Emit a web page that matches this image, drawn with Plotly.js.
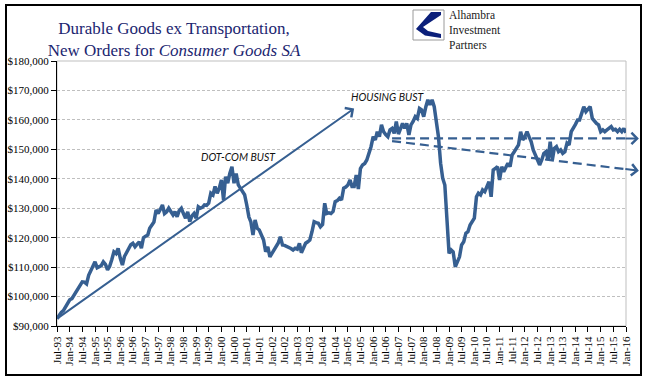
<!DOCTYPE html>
<html>
<head>
<meta charset="utf-8">
<script src="https://cdn.plot.ly/plotly-3.0.1.min.js"></script>
<style>html,body{margin:0;padding:0;background:#fff;}#chart{width:650px;height:392px;}</style>
</head>
<body>
<div id="chart"></div>
<script>
// ---- data ----
var startYear = 1993, startMonth = 7; // Jul-93, monthly observations
var orders = [
  92500, 93600, 94600, 95200, 96500, 97800, 98900, 99300, 100400, 101800,
  102900, 104200, 105000, 104900, 104300, 107200, 109000, 110400, 111800, 109800,
  110200, 110500, 111800, 110900, 109100, 110300, 112600, 115200, 114600, 116400,
  113000, 110700, 113600, 115000, 116400, 117600, 118100, 116900, 117800, 118600,
  116400, 120000, 120500, 120900, 123200, 124200, 125300, 129400, 128200, 129600,
  131100, 128200, 128800, 130000, 128600, 127700, 128800, 127100, 129200, 130000,
  128200, 126600, 128800, 125400, 127400, 128200, 126600, 130500, 130000, 130300,
  131100, 131000, 131700, 135100, 134500, 137400, 135100, 136800, 139600, 132800,
  140700, 138500, 141800, 144100, 138500, 141800, 137900, 136800, 135900, 134600,
  131100, 127000, 125400, 120900, 126000, 123200, 122600, 120800, 119200, 115200,
  116900, 113500, 114600, 115800, 116900, 118200, 120300, 117500, 117400, 117100,
  116900, 116300, 115800, 116400, 116100, 118100, 114900, 116500, 118100, 118600,
  119200, 122000, 125400, 125100, 124900, 123700, 124500, 131700, 128200, 128400,
  128200, 128900, 132200, 132600, 133400, 132800, 136800, 137200, 137900, 139600,
  137400, 137400, 141300, 136500, 143500, 144700, 145200, 146400, 148600, 150900,
  154300, 153200, 156000, 154300, 158300, 156000, 155000, 154300, 156600, 157100,
  155400, 159400, 155200, 157200, 158800, 157100, 158800, 154900, 158300, 159500,
  161100, 160500, 163900, 163400, 161100, 164500, 166800, 165100, 166800, 164500,
  160000, 154300, 145300, 140200, 137900, 127100, 114700, 115800, 115200, 110100,
  112000, 113500, 117500, 118600, 121500, 122000, 124300, 125400, 126600, 133900,
  135100, 134500, 136200, 135600, 137000, 139000, 133900, 143000, 143500, 144100,
  139600, 144100, 142400, 144000, 145300, 144100, 148100, 149200, 150300, 151500,
  156000, 153200, 154300, 156000, 154300, 152600, 149800, 148100, 146400, 144700,
  146400, 148600, 149200, 146400, 152600, 146400, 150300, 150900, 149200, 149800,
  148600, 149200, 152100, 151500, 156000, 157100, 158500, 160000, 160000, 162200,
  164500, 162800, 163900, 164500, 160500, 159400, 158800, 158300, 156000, 156600,
  156000, 156600, 157200, 157700, 156600, 156800, 156000, 156800, 156000, 157100, 155600
];
// trend guides (date, value)
var growthArrow = {from: ['1993-07-01', 92500], to: ['2005-04-01', 163900]};
var flatTrend   = {from: ['2006-10-01', 153700], to: ['2016-01-01', 153700], tip: ['2016-07-05', 153700], tail: ['2015-12-01', 153700]};
var downTrend   = {from: ['2006-10-01', 152800], to: ['2016-01-01', 143250], tip: ['2016-07-05', 142740], tail: ['2015-12-01', 143370]};
var labels = [
  {text: 'DOT-COM BUST', date: '2000-09-01', value: 147300},
  {text: 'HOUSING BUST', date: '2006-08-01', value: 167700}
];
var logoLines = ['Alhambra', 'Investment', 'Partners'];

function pad(n){return (n<10?'0':'')+n;}
var dates = orders.map(function(v,i){
  var m = startMonth - 1 + i;
  var y = startYear + Math.floor(m/12);
  return y + '-' + pad(m%12 + 1) + '-01';
});

// ---- layout geometry ----
var L = 57, R = 24, T = 61, B = 66, W = 650, H = 392;
var PW = W - L - R, PH = H - T - B;
function px(x){return (x - L)/PW;}
function py(y){return (H - B - y)/PH;}

var blue = '#365F91';
var serif = '"Liberation Serif", "Times New Roman", serif';
var sans = 'Lato, "Liberation Sans", sans-serif';

var trace = {
  x: dates, y: orders, type: 'scatter', mode: 'lines',
  line: {color: blue, width: 3.5}, hoverinfo: 'skip'
};

function logoPath(){
  var pts = [[441,12],[431,12],[416,29],[425,35.5],[441,38],[441,34],[428,31],[423,27],[441,15]];
  var s = '';
  pts.forEach(function(p,i){ s += (i? ' L':'M') + px(p[0]).toFixed(4) + ',' + py(p[1]).toFixed(4); });
  return s + ' Z';
}

var shapes = [
  {type:'rect', xref:'paper', yref:'paper', x0:0, x1:1, y0:0, y1:1, line:{color:'#BFBFBF', width:1}, layer:'below'},
  {type:'line', xref:'x', yref:'y', x0:flatTrend.from[0], y0:flatTrend.from[1], x1:flatTrend.to[0], y1:flatTrend.to[1], line:{color:blue, width:2.2, dash:'9px,5px'}},
  {type:'line', xref:'x', yref:'y', x0:downTrend.from[0], y0:downTrend.from[1], x1:downTrend.to[0], y1:downTrend.to[1], line:{color:blue, width:2.2, dash:'9px,5px'}},
  {type:'rect', xref:'paper', yref:'paper', x0:px(6), x1:px(641), y0:py(375), y1:py(5), line:{color:'#000', width:2}, fillcolor:'rgba(0,0,0,0)'},
  {type:'rect', xref:'paper', yref:'paper', x0:px(413), x1:px(444), y0:py(40), y1:py(10), line:{color:'#9A9A9A', width:1}, fillcolor:'#fff'},
  {type:'path', xref:'paper', yref:'paper', path: logoPath(), line:{width:0}, fillcolor:'#0B1F7A'}
];

var annotations = [
  {x: growthArrow.to[0], y: growthArrow.to[1], ax: growthArrow.from[0], ay: growthArrow.from[1], xref:'x', yref:'y', axref:'x', ayref:'y',
   text:'', showarrow:true, arrowhead:4, arrowsize:1.1, arrowwidth:2, arrowcolor:blue, standoff:0, startstandoff:0},
  {x: flatTrend.tip[0], y: flatTrend.tip[1], ax: flatTrend.tail[0], ay: flatTrend.tail[1], xref:'x', yref:'y', axref:'x', ayref:'y',
   text:'', showarrow:true, arrowhead:4, arrowsize:1.1, arrowwidth:2, arrowcolor:blue, standoff:0, startstandoff:0},
  {x: downTrend.tip[0], y: downTrend.tip[1], ax: downTrend.tail[0], ay: downTrend.tail[1], xref:'x', yref:'y', axref:'x', ayref:'y',
   text:'', showarrow:true, arrowhead:4, arrowsize:1.1, arrowwidth:2, arrowcolor:blue, standoff:0, startstandoff:0}
];
labels.forEach(function(l){
  annotations.push({x:l.date, y:l.value, xref:'x', yref:'y', text:'<i>'+l.text+'</i>', showarrow:false,
    font:{family:sans, size:10.5, color:'#111'}, xanchor:'center', yanchor:'middle'});
});
annotations.push({xref:'paper', yref:'paper', x:px(448), y:py(30.5), text:logoLines.join('<br>'), showarrow:false,
  align:'left', xanchor:'left', yanchor:'middle', borderpad:0, font:{family:serif, size:11.5, color:'#222'}});

var layout = {
  width: W, height: H,
  margin: {l:L, r:R, t:T, b:B, pad:0},
  paper_bgcolor:'#fff', plot_bgcolor:'#fff',
  showlegend:false,
  title: {
    text: 'Durable Goods ex Transportation,<br>New Orders for <i>Consumer Goods SA</i>',
    font: {family: serif, size: 17, color: '#1B2570'},
    xref:'container', yref:'container', x: 174/W, xanchor:'center', y: 1 - 34/H, yanchor:'top'
  },
  xaxis: {
    type:'date', range:['1993-07-01','2016-01-01'], tick0:'1993-07-01', dtick:'M6', tickformat:'%b-%y',
    tickangle:-90, ticks:'outside', ticklen:5, tickcolor:'#000', tickwidth:1,
    showline:true, linecolor:'#000', linewidth:1, showgrid:false, zeroline:false,
    tickfont:{family:serif, size:11, color:'#000'}
  },
  yaxis: {
    range:[90000,180000], dtick:10000, tick0:90000, tickprefix:'$', tickformat:',d',
    ticks:'outside', ticklen:5, tickcolor:'#000', tickwidth:1,
    showline:true, linecolor:'#000', linewidth:1, zeroline:false,
    showgrid:true, gridcolor:'#BFBFBF', griddash:'3px,2px', gridwidth:1,
    tickfont:{family:serif, size:11, color:'#000'}
  },
  shapes: shapes,
  annotations: annotations
};

Plotly.newPlot('chart', [trace], layout, {staticPlot:true, displayModeBar:false});
</script>
</body>
</html>
